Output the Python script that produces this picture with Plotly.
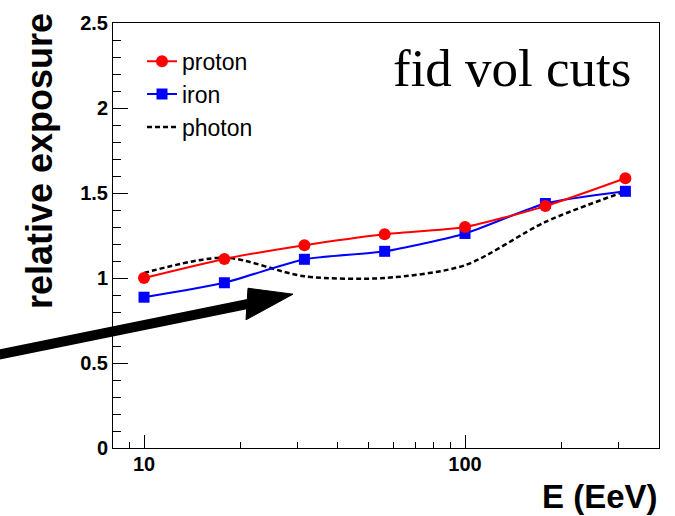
import plotly.graph_objects as go

# ---- data ----
energy = [10, 17.8, 31.6, 56.2, 100, 178, 316]
proton = [1.00, 1.112, 1.193, 1.258, 1.300, 1.423, 1.587]
iron = [0.887, 0.972, 1.110, 1.157, 1.262, 1.438, 1.510]
photon = [1.03, 1.12, 1.01, 1.00, 1.075, 1.33, 1.51]

x_ticks = [10, 100]
x_tick_labels = ["10", "100"]
x_minor = [9, 20, 30, 40, 50, 60, 70, 80, 90, 200, 300]

# plot-area geometry in pixels (for annotations in paper coords)
W, H = 675, 516
L, R, T, B = 113, 16, 17, 68
PW, PH = W - L - R, H - T - B


def px(x):
    return (x - L) / PW


def py(y):
    return (H - B - y) / PH


fig = go.Figure()
fig.add_trace(go.Scatter(
    x=energy, y=photon, name="photon", mode="lines",
    line=dict(color="black", width=2.5, dash="5px,3px", shape="spline", smoothing=0.8),
))
fig.add_trace(go.Scatter(
    x=energy, y=iron, name="iron", mode="lines+markers",
    line=dict(color="#0000ff", width=2, shape="spline", smoothing=0.6),
    marker=dict(symbol="square", size=11, color="#0000ff"),
))
fig.add_trace(go.Scatter(
    x=energy, y=proton, name="proton", mode="lines+markers",
    line=dict(color="#ff0000", width=2, shape="spline", smoothing=0.6),
    marker=dict(symbol="circle", size=12, color="#ff0000"),
))

tickfont = dict(family="Liberation Sans, Arial, sans-serif", size=20, color="black", weight="bold")

fig.update_layout(
    width=W, height=H,
    margin=dict(l=L, r=R, t=T, b=B),
    paper_bgcolor="white", plot_bgcolor="white",
    showlegend=True,
    legend=dict(
        x=px(142), y=py(34), xanchor="left", yanchor="top",
        traceorder="reversed",
        font=dict(family="Liberation Sans, Arial, sans-serif", size=23, color="black"),
        bgcolor="rgba(0,0,0,0)", borderwidth=0, itemwidth=30,
    ),
    xaxis=dict(
        type="log", range=[0.9034, 2.6044],
        tickmode="array", tickvals=x_ticks, ticktext=x_tick_labels,
        ticks="inside", ticklen=13, tickwidth=1, tickcolor="black",
        minor=dict(tickmode="array", tickvals=x_minor, ticks="inside", ticklen=6,
                   tickwidth=1, tickcolor="black", showgrid=False),
        showgrid=False, zeroline=False,
        showline=True, linecolor="black", linewidth=1, mirror=True,
        tickfont=tickfont, ticklabelstandoff=-2,
    ),
    yaxis=dict(
        range=[0, 2.5], tickmode="linear", tick0=0, dtick=0.5,
        ticks="inside", ticklen=15, tickwidth=1, tickcolor="black",
        minor=dict(dtick=0.1, ticks="inside", ticklen=8, tickwidth=1,
                   tickcolor="black", showgrid=False),
        showgrid=False, zeroline=False,
        showline=True, linecolor="black", linewidth=1, mirror=True,
        tickfont=tickfont, ticklabelstandoff=0,
    ),
    annotations=[
        dict(text="fid vol cuts", xref="paper", yref="paper",
             x=px(633), y=py(63), xanchor="right", yanchor="middle",
             showarrow=False,
             font=dict(family="Liberation Serif, Times New Roman, serif", size=53, color="black")),
        dict(text="E (EeV)", xref="paper", yref="paper",
             x=px(660), y=py(497), xanchor="right", yanchor="middle",
             showarrow=False,
             font=dict(family="Liberation Sans, Arial, sans-serif", size=33, color="black",
                       weight="bold")),
        dict(text="relative exposure", xref="paper", yref="paper",
             x=px(39), y=py(157), xanchor="center", yanchor="middle", textangle=-90,
             showarrow=False,
             font=dict(family="Liberation Sans, Arial, sans-serif", size=36, color="black",
                       weight="bold")),
    ],
    shapes=[
        dict(type="line", xref="paper", yref="paper",
             x0=px(-5), y0=py(354), x1=px(252), y1=py(301),
             line=dict(color="black", width=10)),
        dict(type="path", xref="paper", yref="paper",
             path=(f"M {px(293)},{py(292)} L {px(248)},{py(286)} "
                   f"L {px(246)},{py(318)} Z"),
             fillcolor="black", line=dict(color="black", width=1)),
    ],
)

fig.write_html("out.html")
